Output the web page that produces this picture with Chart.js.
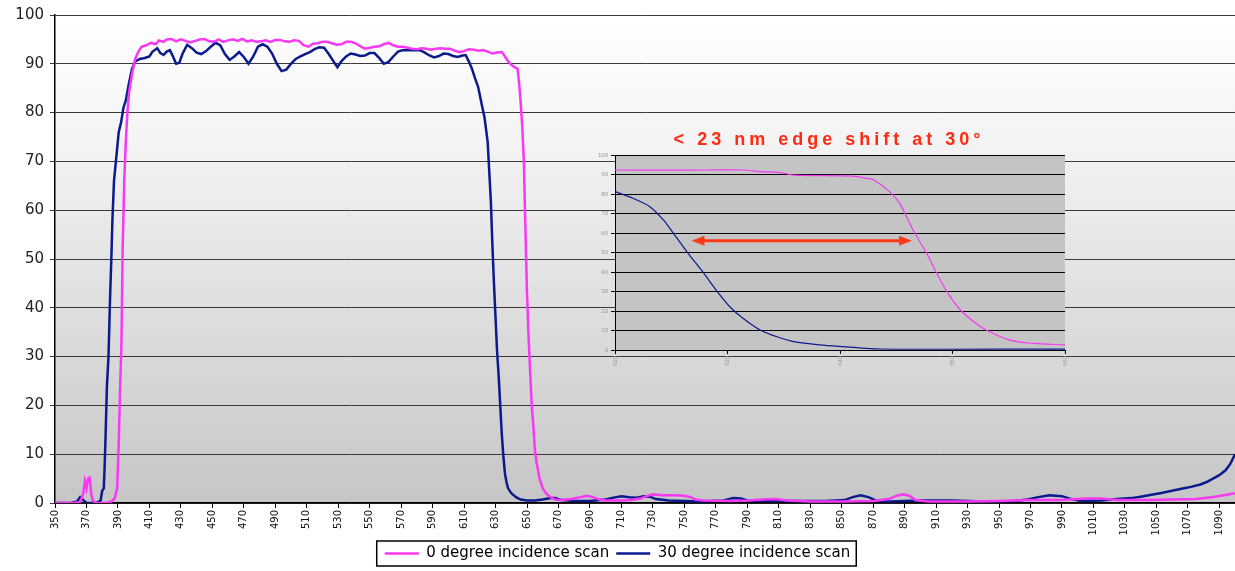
<!DOCTYPE html>
<html lang="en">
<head>
<meta charset="UTF-8">
<title>Incidence scan</title>
<script src="https://cdn.jsdelivr.net/npm/chart.js"></script>
<style>
  html, body { margin: 0; padding: 0; background: #fff; }
  #wrap { position: relative; width: 1235px; height: 571px; }
  #main { position: absolute; left: 0; top: 0; }
  #inset { position: absolute; left: 580px; top: 125px; }
</style>
</head>
<body>
<div id="wrap">
  <canvas id="main" width="1235" height="571"></canvas>
  <canvas id="inset" width="500" height="260"></canvas>
</div>
<script>
// wavelength (nm), transmission (%)
const scan0 = [
  [350,0],[362,0],[366,0.2],[368,2],[369,4.5],[370,3],[371,5],[372,5.2],[373,2],[374,0.5],[376,0],[382,0],[386,0.3],[388,1],
  [389.5,3],[390.5,12],[391.5,25],[392.2,32],[393,52],[394,66],[395,74],[396,80],[397,84],[399,88],[401,91],[403,92.5],
  [405,93.5],[408,93.8],[411,94.3],[414,94],[416,94.8],[419,94.5],[421,95],[424,95.1],[427,94.6],[430,95],[433,94.7],
  [436,94.4],[439,94.7],[442,95],[445,95.1],[448,94.6],[451,94.5],[454,95],[457,94.5],[460,94.8],[463,95],[466,94.7],
  [469,95.1],[472,94.6],[475,94.8],[478,94.5],[481,94.6],[484,94.8],[487,94.5],[490,94.9],[493,94.9],[496,94.6],[499,94.5],
  [502,94.8],[505,94.7],[508,93.8],[511,93.5],[514,94.1],[517,94.2],[520,94.5],[523,94.5],[526,94.2],[529,93.9],[532,94],
  [535,94.5],[538,94.5],[541,94.2],[544,93.6],[547,93.1],[550,93.3],[553,93.5],[556,93.6],[559,94],[562,94.3],[565,93.8],
  [568,93.5],[571,93.5],[574,93.3],[577,93.1],[580,93],[583,93.2],[586,93.1],[589,92.9],[592,93.1],[595,93.2],[598,93.1],
  [601,93.1],[604,92.7],[607,92.4],[610,92.6],[613,93],[616,92.9],[619,92.7],[622,92.8],[625,92.5],[628,92.1],[631,92.3],
  [634,92.4],[636,91.5],[638,90.5],[640,89.8],[642,89.3],[644,89],[645,86],[646,82],[647,77],[648,70],[649,56],[650,43],
  [651,34],[652,27],[653,20],[654,16],[655,11],[656,8.5],[658,5],[660,3],[662,2],[665,1.2],[668,0.7],[672,0.6],[678,0.8],
  [684,1.2],[688,1.5],[692,1.2],[696,0.7],[700,0.5],[710,0.5],[716,0.6],[722,0.9],[726,1.4],[730,1.8],[736,1.6],[744,1.6],
  [750,1.5],[754,1.2],[757,0.7],[762,0.5],[780,0.4],[790,0.5],[800,0.7],[808,0.8],[815,0.5],[830,0.3],[850,0.3],[870,0.4],
  [880,0.8],[885,1.5],[889,1.8],[893,1.5],[897,0.6],[905,0.3],[930,0.3],[950,0.4],[970,0.6],[990,0.6],[1005,0.9],[1015,0.9],
  [1025,0.6],[1045,0.6],[1060,0.7],[1075,0.8],[1085,1.2],[1093,1.6],[1100,2]
];
const scan30 = [
  [350,0],[360,0],[364,0.3],[366,1.2],[368,0.6],[370,0],[376,0],[379,0.5],[380,2.5],[381,3],[381.5,7],[382,12],[383,24],
  [384,30],[385,42],[385.8,50],[386.5,58],[387.5,66],[389,71],[390.5,76],[392,78],[393.5,81],[395,82.5],[397,86],[399,89],
  [401,90.5],[404,91],[407,91.2],[410,91.5],[412,92.5],[415,93.2],[417,92.2],[419,91.8],[421,92.5],[423,92.8],[425,91.5],
  [427,90],[429,90.2],[431,92],[434,93.9],[437,93.2],[440,92.3],[443,92],[446,92.6],[449,93.5],[452,94.3],[455,93.8],
  [458,92],[461,90.8],[464,91.5],[467,92.4],[470,91.4],[473,90],[476,91.5],[479,93.5],[482,94],[485,93.5],[488,92.1],
  [491,90],[494,88.5],[497,88.8],[500,90],[503,91],[506,91.5],[509,92],[512,92.4],[515,93],[518,93.4],[521,93.3],[524,92],
  [527,90.5],[529.5,89.3],[532,90.5],[535,91.5],[538,92.1],[541,91.9],[544,91.6],[547,91.7],[550,92.2],[553,92.2],
  [556,91.2],[559,90],[562,90.4],[565,91.5],[568,92.5],[571,92.8],[575,92.8],[579,92.8],[582,92.8],[585,92.3],[588,91.7],
  [591,91.3],[594,91.6],[597,92.1],[600,92],[603,91.6],[606,91.4],[609,91.7],[611,91.8],[613,90.5],[615,89],[617,87],
  [619,85.2],[621,82],[623,79],[625,74],[626,68],[627,62],[628,53],[629,45],[630,38],[631,31],[632,26],[633,20],[634,14],
  [635,9.5],[636,6],[637,4.2],[638,3],[640,2],[643,1.2],[646,0.7],[650,0.5],[655,0.5],[660,0.7],[665,1],[668,1],[672,0.6],
  [680,0.4],[690,0.4],[700,0.7],[705,1.1],[710,1.4],[715,1.2],[720,1.1],[724,1.4],[728,1.3],[732,0.8],[740,0.5],[760,0.3],
  [775,0.5],[781,1],[786,0.9],[790,0.5],[800,0.4],[820,0.4],[840,0.4],[852,0.6],[857,1.2],[862,1.6],[867,1.2],[872,0.5],
  [880,0.3],[900,0.5],[920,0.5],[940,0.3],[960,0.4],[968,0.7],[975,1.2],[982,1.6],[990,1.4],[996,0.8],[1002,0.4],[1015,0.5],
  [1025,0.8],[1034,1],[1040,1.3],[1047,1.7],[1054,2.1],[1060,2.5],[1066,2.9],[1072,3.3],[1078,3.8],[1082,4.3],[1086,5],
  [1090,5.7],[1094,6.7],[1097,8],[1100,10]
];
const xTicks = [350,370,390,410,430,450,470,490,510,530,550,570,590,610,630,650,670,690,710,730,750,770,790,810,
  830,850,870,890,910,930,950,970,990,1010,1030,1050,1070,1090];

// inset: edge region zoomed
const inset0 = [
  [620,92.3],[624,92.2],[628.1,92.3],[631.4,92.3],[632.9,91.5],[634.7,91],[635.9,89.7],[641.2,89.2],[642.4,88],[643,87.2],
  [644.4,81.2],[645.3,75.2],[646.5,61.5],[647.7,49.6],[648.6,39.3],[649.6,29],[650.7,20.5],[651.9,14.5],[653,10.3],
  [655.1,5.1],[657.2,3.4],[660,2.6]
];
const inset30 = [
  [620,81.2],[621.6,77.8],[623.1,73.5],[624.3,66.7],[625.2,59.8],[626.5,49.6],[627.9,39.3],[629.1,29.9],[630.2,22.2],
  [631.4,16.2],[632.9,10.3],[634.4,6.8],[635.9,4.3],[638.2,2.6],[640.3,1.7],[643.6,0.5],[660,0.5]
];
const shiftArrow = { from: 626.8, to: 646.4, level: 56 };
const labels = ['0 degree incidence scan', '30 degree incidence scan'];
const pink = '#f838f4';
const navy = '#0b1a8c';

const toXY = arr => arr.map(p => ({ x: p[0], y: p[1] }));

const mainBg = {
  id: 'mainBg',
  beforeDraw(chart) {
    const a = chart.chartArea, ctx = chart.ctx;
    const g = ctx.createLinearGradient(0, a.top, 0, a.bottom);
    g.addColorStop(0, '#ffffff');
    g.addColorStop(0.25, '#f4f4f4');
    g.addColorStop(1, '#c6c6c6');
    ctx.save();
    ctx.fillStyle = g;
    ctx.fillRect(a.left, a.top, a.right - a.left, a.bottom - a.top);
    ctx.restore();
  },
  afterDraw(chart) {
    // frame round the legend
    const boxes = chart.legend.legendHitBoxes;
    if (!boxes || !boxes.length) return;
    let l = Infinity, r = -Infinity, t = Infinity, b = -Infinity;
    boxes.forEach(h => {
      l = Math.min(l, h.left); r = Math.max(r, h.left + h.width);
      t = Math.min(t, h.top); b = Math.max(b, h.top + h.height);
    });
    const ctx = chart.ctx;
    ctx.save();
    ctx.strokeStyle = '#000';
    ctx.lineWidth = 1.5;
    ctx.strokeRect(l - 8, t - 5, r - l + 14, b - t + 10);
    ctx.restore();
  }
};

new Chart(document.getElementById('main'), {
  type: 'line',
  data: {
    datasets: [
      { label: labels[0], data: toXY(scan0), borderColor: pink, backgroundColor: pink, borderWidth: 2.5 },
      { label: labels[1], data: toXY(scan30), borderColor: navy, backgroundColor: navy, borderWidth: 2.5 }
    ]
  },
  options: {
    responsive: false,
    animation: false,
    layout: { padding: { top: 6, right: 0, left: 0, bottom: 0 } },
    elements: { point: { radius: 0 }, line: { tension: 0 } },
    plugins: {
      tooltip: { enabled: false },
      legend: {
        position: 'bottom',
        labels: {
          usePointStyle: true, pointStyle: 'line', pointStyleWidth: 34,
          color: '#000', font: { family: 'DejaVu Sans', size: 15 }, padding: 7
        }
      }
    },
    scales: {
      x: {
        type: 'linear', min: 350, max: 1100,
        afterBuildTicks: s => { s.ticks = xTicks.map(v => ({ value: v })); },
        ticks: { autoSkip: false, minRotation: 90, maxRotation: 90, color: '#111',
                 font: { family: 'DejaVu Sans', size: 10 }, padding: 2,
                 callback: v => String(v) },
        grid: { drawOnChartArea: false, tickLength: 5, color: '#000' },
        border: { color: '#000', width: 1.5 },
        afterFit: s => { s.height = 36; }
      },
      y: {
        min: 0, max: 100,
        ticks: { stepSize: 10, color: '#222', font: { family: 'DejaVu Sans', size: 15 }, padding: 6 },
        grid: { color: '#3a3a3a', tickLength: 5, lineWidth: 1 },
        border: { color: '#000', width: 1.5 },
        afterFit: s => { s.width = 55; }
      }
    }
  },
  plugins: [mainBg]
});

const insetDeco = {
  id: 'insetDeco',
  beforeDraw(chart) {
    const a = chart.chartArea, ctx = chart.ctx;
    ctx.save();
    ctx.fillStyle = '#c4c4c4';
    ctx.fillRect(a.left, a.top, a.right - a.left, a.bottom - a.top);
    ctx.restore();
  },
  afterDraw(chart) {
    const ctx = chart.ctx, xs = chart.scales.x, ys = chart.scales.y;
    ctx.save();
    // title
    ctx.fillStyle = '#ff2a10';
    ctx.font = 'bold 18px "Liberation Sans", Arial, sans-serif';
    ctx.letterSpacing = '4px';
    ctx.textAlign = 'center';
    ctx.textBaseline = 'middle';
    ctx.fillText('< 23 nm edge shift at 30°', 249, 15);
    // double arrow
    const x1 = xs.getPixelForValue(shiftArrow.from), x2 = xs.getPixelForValue(shiftArrow.to);
    const y = ys.getPixelForValue(shiftArrow.level);
    ctx.strokeStyle = '#ff3a1a';
    ctx.fillStyle = '#ff3a1a';
    ctx.lineWidth = 3;
    ctx.beginPath();
    ctx.moveTo(x1 + 8, y); ctx.lineTo(x2 - 8, y);
    ctx.stroke();
    [[x1, 1], [x2, -1]].forEach(([px, d]) => {
      ctx.beginPath();
      ctx.moveTo(px, y);
      ctx.lineTo(px + d * 13, y - 5);
      ctx.lineTo(px + d * 13, y + 5);
      ctx.closePath();
      ctx.fill();
    });
    ctx.restore();
  }
};

new Chart(document.getElementById('inset'), {
  type: 'line',
  data: {
    datasets: [
      { label: labels[0], data: toXY(inset0), borderColor: pink, borderWidth: 1.2 },
      { label: labels[1], data: toXY(inset30), borderColor: navy, borderWidth: 1.2 }
    ]
  },
  options: {
    responsive: false,
    animation: false,
    layout: { padding: { top: 30, right: 15, left: 0, bottom: 0 } },
    elements: { point: { radius: 0 }, line: { tension: 0.3 } },
    plugins: { legend: { display: false }, tooltip: { enabled: false } },
    scales: {
      x: {
        type: 'linear', min: 620, max: 660,
        ticks: { stepSize: 10, minRotation: 90, maxRotation: 90, color: '#999', font: { size: 6 }, padding: 2 },
        grid: { drawOnChartArea: false, tickLength: 4, color: '#000' },
        border: { color: '#000' },
        afterFit: s => { s.height = 35; }
      },
      y: {
        min: 0, max: 100,
        ticks: { stepSize: 10, color: '#999', font: { size: 6 }, padding: 3 },
        grid: { color: '#000', tickLength: 4 },
        border: { color: '#000' },
        afterFit: s => { s.width = 35; }
      }
    }
  },
  plugins: [insetDeco]
});
</script>
</body>
</html>
